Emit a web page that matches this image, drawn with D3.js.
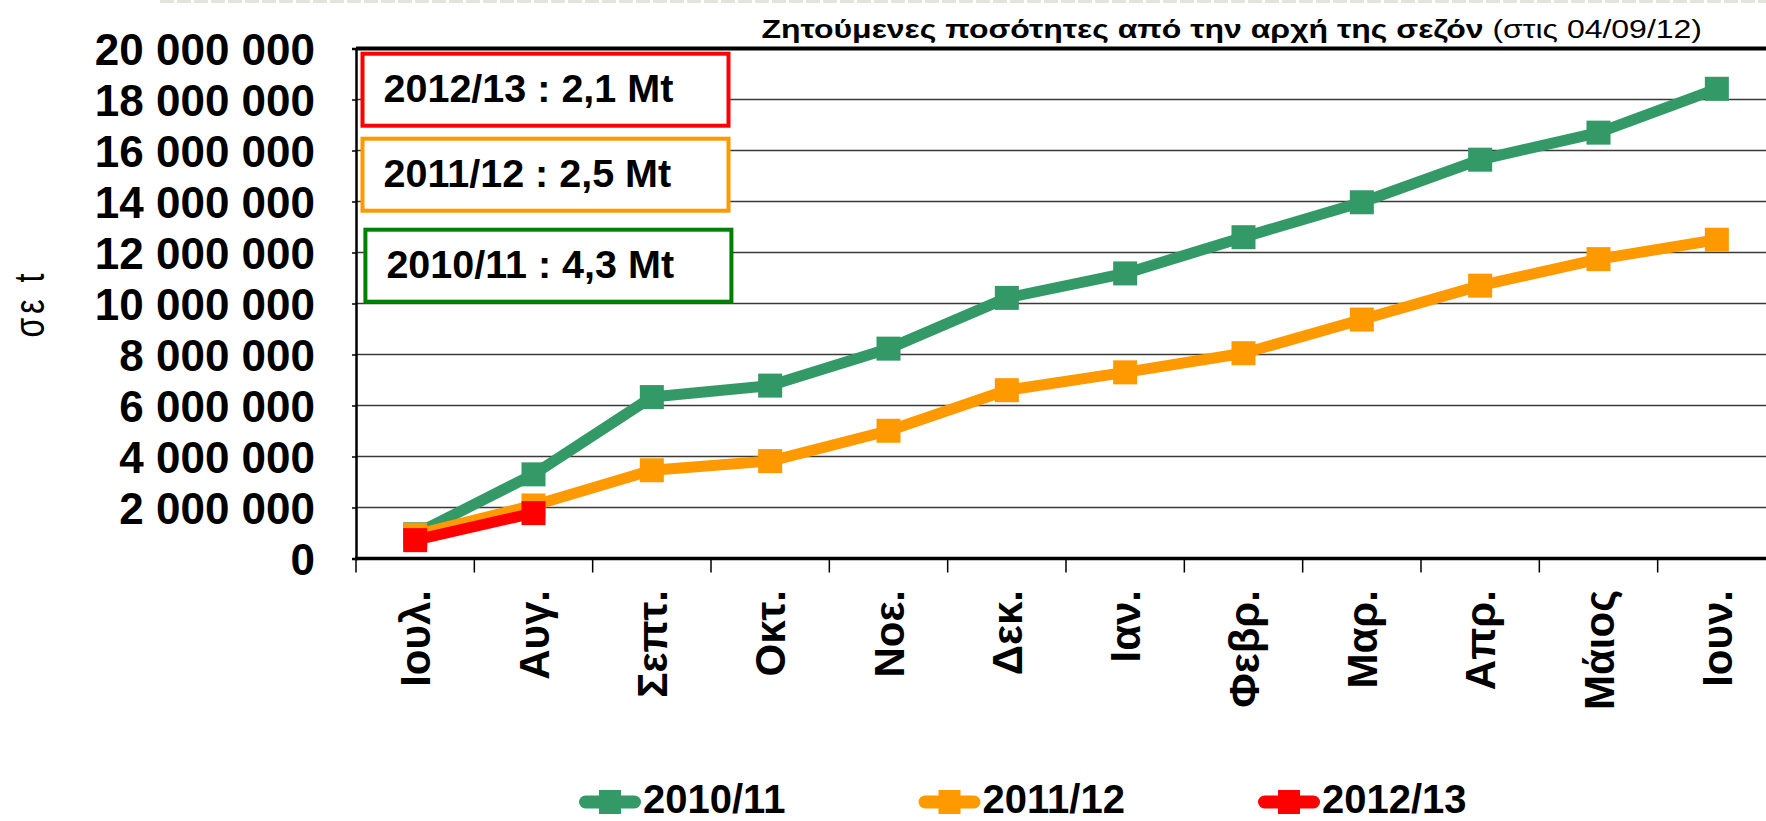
<!DOCTYPE html>
<html>
<head>
<meta charset="utf-8">
<script src="https://cdn.jsdelivr.net/npm/d3@7"></script>
<style>
  body { margin: 0; background: #fff; overflow: hidden; }
  svg { display: block; font-family: "Liberation Sans", Arial, sans-serif; }
</style>
</head>
<body>
<svg id="chart"></svg>
<script>
// data
const months = ['Ιουλ.', 'Αυγ.', 'Σεπτ.', 'Οκτ.', 'Νοε.', 'Δεκ.', 'Ιαν.', 'Φεβρ.', 'Μαρ.', 'Απρ.', 'Μάιος', 'Ιουν.'];
const seasons = ['2010/11', '2011/12', '2012/13'];
const values2010 = [950000, 3300000, 6330000, 6780000, 8230000, 10220000, 11180000, 12600000, 13970000, 15640000, 16700000, 18420000];
const values2011 = [930000, 2080000, 3460000, 3820000, 5010000, 6600000, 7300000, 8050000, 9370000, 10700000, 11740000, 12500000];
const values2012 = [720000, 1780000];
const seasonColors = ['#339966', '#ff9900', '#ff0000'];
const boxLabels = ['2012/13 : 2,1 Mt', '2011/12 : 2,5 Mt', '2010/11 : 4,3 Mt'];
const boxColors = ['#ff0000', '#ff9900', '#008000'];
const yTicks = [0, 2000000, 4000000, 6000000, 8000000, 10000000, 12000000, 14000000, 16000000, 18000000, 20000000];
const titleBold = 'Ζητούμενες ποσότητες από την αρχή της σεζόν';
const titleNote = ' (στις 04/09/12)';
const yLabel = 'σε t';

const width = 1766;
const height = 821;
const plot = { left: 356, right: 1776, top: 48.5, bottom: 558.5 };

const svg = d3.select('#chart')
  .attr('width', width)
  .attr('height', height);

// faint strip left over at the top of the slide
svg.append('line')
  .attr('x1', 160).attr('x2', width)
  .attr('y1', 1.5).attr('y2', 1.5)
  .attr('stroke', '#e4e4dc')
  .attr('stroke-width', 3)
  .attr('stroke-dasharray', '14 3');

const x = d3.scaleBand()
  .domain(months)
  .range([plot.left, plot.right]);

const y = d3.scaleLinear()
  .domain([0, 20000000])
  .range([plot.bottom, plot.top]);

const fmt = d3.formatLocale({ decimal: ',', thousands: ' ', grouping: [3], currency: ['', ''] }).format(',d');

// gridlines
svg.append('g')
  .selectAll('line')
  .data(yTicks.slice(1, -1))
  .join('line')
  .attr('x1', plot.left).attr('x2', width)
  .attr('y1', d => y(d)).attr('y2', d => y(d))
  .attr('stroke', '#3a3a3a')
  .attr('stroke-width', 1.5);

// top frame line
svg.append('line')
  .attr('x1', plot.left).attr('x2', width)
  .attr('y1', y(20000000)).attr('y2', y(20000000))
  .attr('stroke', '#000')
  .attr('stroke-width', 4);

// y axis
const yAxis = svg.append('g')
  .attr('transform', `translate(${plot.left},0)`)
  .call(d3.axisLeft(y).tickValues(yTicks).tickFormat(fmt).tickSize(4).tickPadding(37));
yAxis.select('.domain').attr('stroke', '#000').attr('stroke-width', 2.5);
yAxis.selectAll('.tick line').attr('stroke', '#000').attr('stroke-width', 1.5);
yAxis.selectAll('.tick text')
  .attr('font-family', '"Liberation Sans", Arial, sans-serif')
  .attr('font-size', 44)
  .attr('font-weight', 'bold')
  .attr('fill', '#000')
  .attr('dy', '0.36em');

// x axis: ticks between categories
const tickXs = months.map(m => x(m)).concat([x(months[months.length - 1]) + x.bandwidth()]);
svg.append('g')
  .selectAll('line')
  .data(tickXs)
  .join('line')
  .attr('x1', d => d).attr('x2', d => d)
  .attr('y1', plot.bottom).attr('y2', plot.bottom + 14)
  .attr('stroke', '#000')
  .attr('stroke-width', 1.5);

svg.append('line')
  .attr('x1', plot.left - 1).attr('x2', width)
  .attr('y1', plot.bottom).attr('y2', plot.bottom)
  .attr('stroke', '#000')
  .attr('stroke-width', 3.5);

svg.append('g')
  .selectAll('text')
  .data(months)
  .join('text')
  .attr('transform', d => `translate(${x(d) + x.bandwidth() / 2},590) rotate(-90)`)
  .attr('text-anchor', 'end')
  .attr('dy', '0.36em')
  .attr('font-size', 42)
  .attr('font-weight', 'bold')
  .text(d => d);

// y label (stretched a bit like the source)
svg.append('text')
  .attr('transform', `translate(29,${(plot.top + plot.bottom) / 2}) rotate(-90) scale(1,1.3)`)
  .attr('text-anchor', 'middle')
  .attr('dy', '0.35em')
  .attr('font-size', 32)
  .attr('letter-spacing', 4)
  .attr('xml:space', 'preserve')
  .text(yLabel);

// title: the source text is drawn wider than the font, so stretch it to its width
const title = svg.append('text')
  .attr('text-anchor', 'end')
  .attr('font-size', 26.5);
title.append('tspan').attr('font-weight', 'bold').text(titleBold);
title.append('tspan').attr('xml:space', 'preserve').text(titleNote);
const titleW = title.node().getComputedTextLength();
title.attr('transform', `translate(1702,37.5) scale(${941 / titleW},1)`);

// annotation boxes
const boxTops = [53.7, 138.7, 229.7];
const boxLefts = [362.5, 362.5, 365.4];
const box = svg.append('g')
  .selectAll('g')
  .data(boxLabels)
  .join('g')
  .attr('transform', (d, i) => `translate(${boxLefts[i]},${boxTops[i]})`);
box.append('rect')
  .attr('width', 366)
  .attr('height', 72)
  .attr('fill', '#fff')
  .attr('stroke', (d, i) => boxColors[i])
  .attr('stroke-width', 4);
box.append('text')
  .attr('x', 21)
  .attr('y', 48.5)
  .attr('font-size', 39.5)
  .attr('font-weight', 'bold')
  .text(d => d);

// series
const seriesValues = [values2010, values2011, values2012];
const cx = (d, i) => x(months[i]) + x.bandwidth() / 2;
const line = d3.line().x(cx).y(d => y(d));
const markerSize = 24;

seriesValues.forEach((vals, s) => {
  const g = svg.append('g');
  g.append('path')
    .datum(vals)
    .attr('d', line)
    .attr('fill', 'none')
    .attr('stroke', seasonColors[s])
    .attr('stroke-width', 11)
    .attr('stroke-linejoin', 'round');
  g.selectAll('rect')
    .data(vals)
    .join('rect')
    .attr('x', (d, i) => cx(d, i) - markerSize / 2)
    .attr('y', d => y(d) - markerSize / 2)
    .attr('width', markerSize)
    .attr('height', markerSize)
    .attr('fill', seasonColors[s]);
});

// legend
const legendX0 = 579;
const legendStep = 339.5;
const legendY = 802;
const legend = svg.append('g')
  .selectAll('g')
  .data(seasons)
  .join('g')
  .attr('transform', (d, i) => `translate(${legendX0 + i * legendStep},${legendY})`);
legend.append('line')
  .attr('x1', 6.5).attr('x2', 55.5)
  .attr('stroke', (d, i) => seasonColors[i])
  .attr('stroke-width', 13)
  .attr('stroke-linecap', 'round');
legend.append('rect')
  .attr('x', 31 - 11).attr('y', -12)
  .attr('width', 22).attr('height', 24)
  .attr('fill', (d, i) => seasonColors[i]);
legend.append('text')
  .attr('x', 64)
  .attr('y', 11)
  .attr('font-size', 40)
  .attr('font-weight', 'bold')
  .text(d => d);
</script>
</body>
</html>
